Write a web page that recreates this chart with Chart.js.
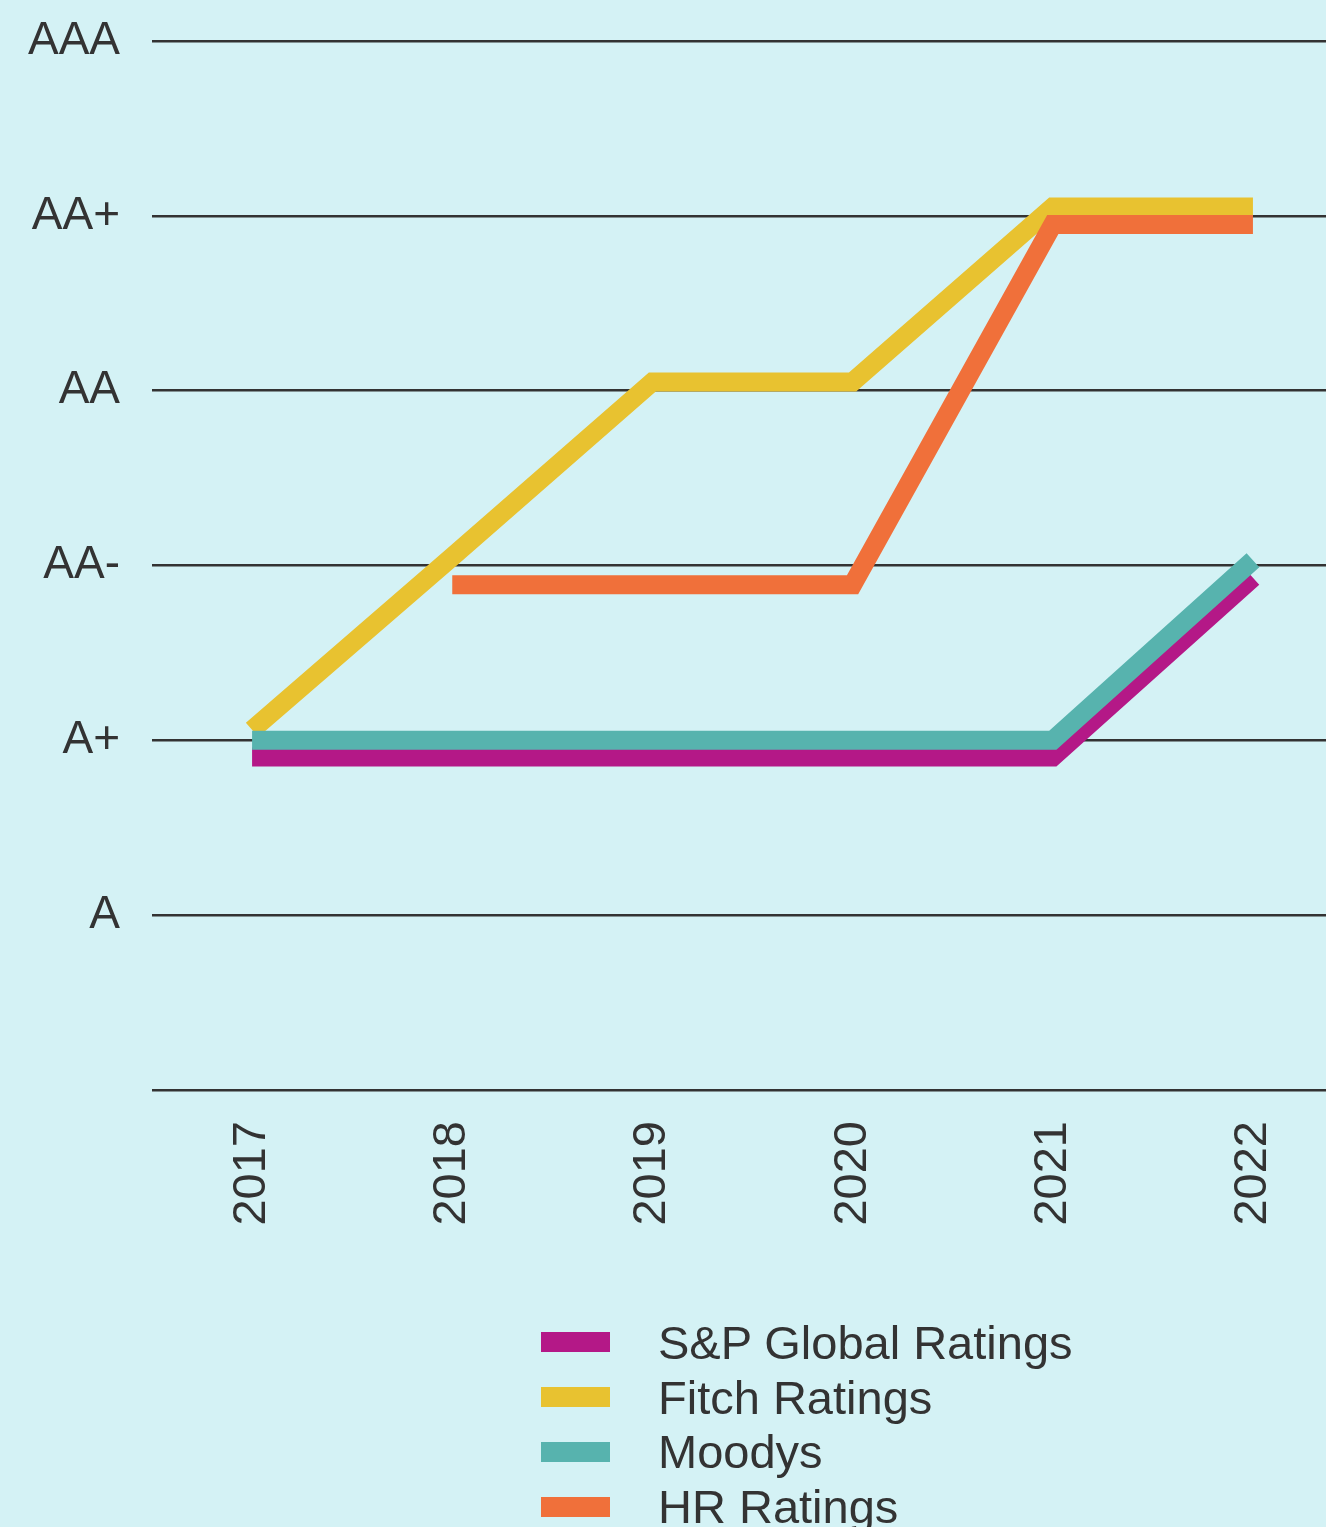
<!DOCTYPE html>
<html>
<head>
<meta charset="utf-8">
<script src="https://cdn.jsdelivr.net/npm/chart.js@4/dist/chart.umd.min.js"></script>
<style>
    html, body {
        margin: 0;
        padding: 0;
        background: #d4f2f5;
        overflow: hidden;
    }
    #wrap {
        position: relative;
        width: 1326px;
        height: 1527px;
    }
    #legend {
        position: absolute;
        left: 541px;
        top: 1315px;
        font-family: 'Liberation Sans', Arial, sans-serif;
        font-size: 47px;
        color: #333;
    }
    .legend-row {
        display: flex;
        align-items: center;
        height: 54.8px;
        line-height: 1;
        white-space: nowrap;
    }
    .legend-box {
        width: 69px;
        height: 20px;
        margin-right: 48px;
    }
</style>
</head>
<body>
<div id="wrap">
    <canvas id="ratings-chart"></canvas>
    <div id="legend"></div>
</div>
<script>
// Years on the x axis
const years = [2017, 2018, 2019, 2020, 2021, 2022];

// Rating scale, index = numeric value on the y axis
const ratingLabels = ['', 'A', 'A+', 'AA-', 'AA', 'AA+', 'AAA'];

// Series (lines are drawn slightly apart so they don't overlap)
const spValues = [1.905, 1.905, 1.905, 1.905, 1.905, 2.93];
const fitchValues = [2.06, 3.05, 4.05, 4.05, 5.05, 5.05];
const moodysValues = [2.0, 2.0, 2.0, 2.0, 2.0, 3.03];
const hrValues = [null, 2.89, 2.89, 2.89, 4.95, 4.95];

const seriesNames = ['S&P Global Ratings', 'Fitch Ratings', 'Moodys', 'HR Ratings'];
const seriesColors = ['#b41887', '#e8c230', '#57b3ae', '#f0703a'];

const fontFamily = "'Liberation Sans', Arial, sans-serif";

function makeDataset(i, values, order) {
    return {
        label: seriesNames[i],
        data: values,
        borderColor: seriesColors[i],
        backgroundColor: seriesColors[i],
        borderWidth: 19,
        borderCapStyle: 'butt',
        borderJoinStyle: 'miter',
        pointRadius: 0,
        pointHoverRadius: 0,
        tension: 0,
        fill: false,
        spanGaps: false,
        order: order
    };
}

const ctx = document.getElementById('ratings-chart');

new Chart(ctx, {
    type: 'line',
    data: {
        labels: years,
        datasets: [
            makeDataset(0, spValues, 3),
            makeDataset(1, fitchValues, 2),
            makeDataset(2, moodysValues, 1),
            makeDataset(3, hrValues, 0)
        ]
    },
    options: {
        responsive: true,
        maintainAspectRatio: false,
        animation: false,
        layout: {
            padding: { top: 41, right: 0, bottom: 0, left: 0 }
        },
        scales: {
            x: {
                type: 'linear',
                min: 2016.5,
                max: 2022.365,
                grid: { display: false, drawTicks: false },
                border: { display: false },
                ticks: {
                    stepSize: 1,
                    includeBounds: false,
                    minRotation: 90,
                    maxRotation: 90,
                    padding: 31,
                    color: '#333',
                    font: { family: fontFamily, size: 47 },
                    callback: v => Number.isInteger(v) ? String(v) : ''
                },
                afterFit: scale => {
                    scale.height = 437;
                    scale.paddingLeft = 0;
                    scale.paddingRight = 0;
                }
            },
            y: {
                min: 0,
                max: 6,
                grid: {
                    color: '#333',
                    lineWidth: 2.5,
                    drawTicks: false
                },
                border: { display: false },
                ticks: {
                    stepSize: 1,
                    padding: 32,
                    color: '#333',
                    font: { family: fontFamily, size: 46 },
                    callback: v => ratingLabels[v] ?? ''
                },
                afterFit: scale => {
                    scale.width = 152;
                    scale.paddingTop = 0;
                    scale.paddingBottom = 0;
                }
            }
        },
        plugins: {
            legend: { display: false },
            tooltip: { enabled: false }
        }
    }
});

// HTML legend, one item per row
document.getElementById('legend').innerHTML = seriesNames.map((name, i) => `
    <div class="legend-row">
        <span class="legend-box" style="background:${seriesColors[i]}"></span>
        <span>${name.replace('&', '&amp;')}</span>
    </div>
`).join('');
</script>
</body>
</html>
